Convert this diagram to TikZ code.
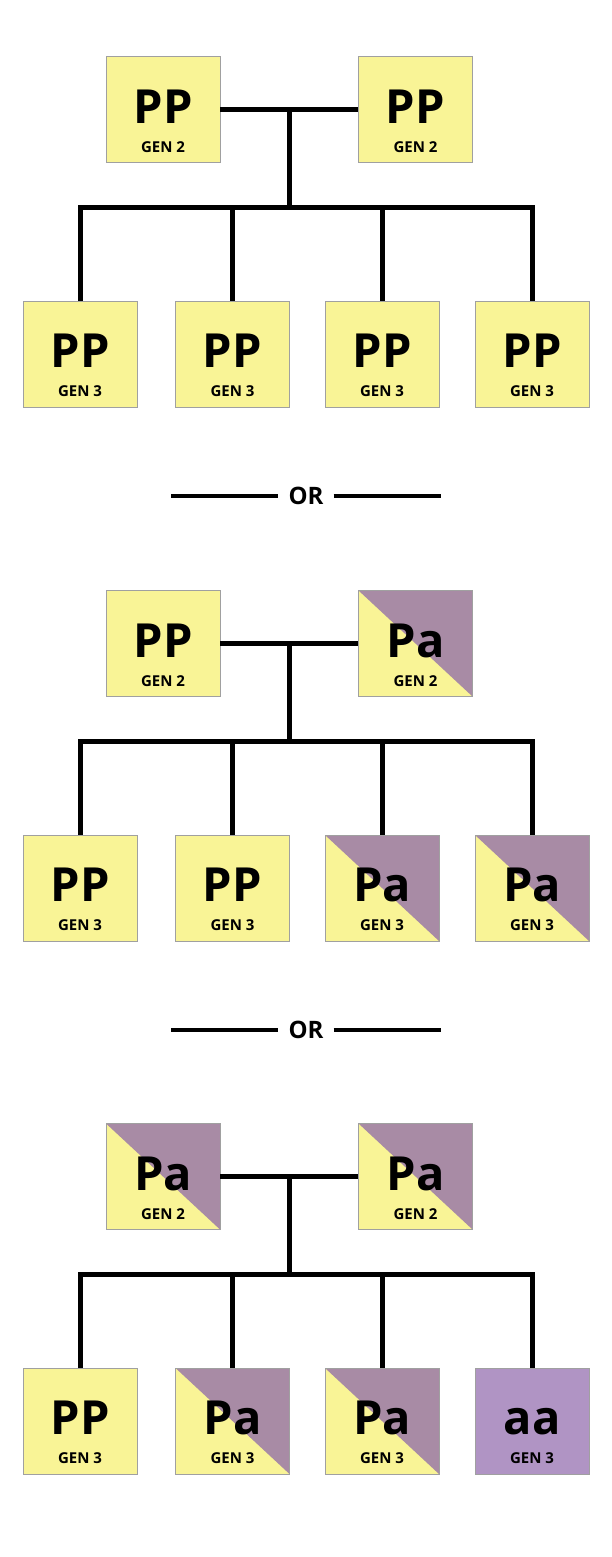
\documentclass[tikz,border=0pt]{standalone}
\usepackage{fontspec}
\setmainfont{Open Sans}
\usetikzlibrary{
    calc,
    positioning
}
\definecolor{pyellow}{HTML}{F9F496}
\definecolor{pmauve}{HTML}{A88BA5}
\definecolor{plilac}{HTML}{B094C4}
\definecolor{boxline}{HTML}{A0A0A0}
\tikzset {
    gen box/.style = {draw = boxline, line width = 0.8pt, fill = pyellow,
        minimum width = 114pt, minimum height = 106pt, inner sep = 0pt},
    half box/.style = {
        gen box,
        path picture = {
            \fill [pmauve] (path picture bounding box.north west)
                -- (path picture bounding box.north east)
                -- (path picture bounding box.south east) -- cycle;
        }
    },
    recessive box/.style = {gen box, fill = plilac},
    allele/.style = {anchor = base, inner sep = 0pt,
        font = \bfseries\fontsize{47}{47}\selectfont},
    gen label/.style = {anchor = base, inner sep = 0pt,
        font = \bfseries\fontsize{15}{15}\selectfont},
    bar/.style = {line width = 5pt},
    or line/.style = {line width = 4pt},
    or text/.style = {inner xsep = 10pt, inner ysep = 0pt,
        font = \bfseries\fontsize{24}{24}\selectfont}
}
% name, x, y, style, genotype, generation
\newcommand\pedbox[6]{
    \node [#4] (#1) at (#2, #3) {};
    \node [allele] at ([yshift = -67pt]#1.north) {#5};
    \node [gen label] at ([yshift = -96pt]#1.north) {GEN #6};
}
% parents a, b and children c1..c4 of one cross
\newcommand\pedlinks[1]{
    \draw [bar] (a#1.east) -- (b#1.west);
    \coordinate (m#1) at ($(a#1.east)!.5!(b#1.west)$);
    \coordinate (s#1) at ([yshift = -97.5pt]m#1);
    \draw [bar] (m#1) -- (s#1);
    \draw [bar] (c1#1.north) |- (s#1) -| (c4#1.north);
    \draw [bar] (c2#1.north) -- (c2#1.north |- s#1);
    \draw [bar] (c3#1.north) -- (c3#1.north |- s#1);
}

\begin{document}
\begin{tikzpicture}[x = 1pt, y = -1pt]
    \useasboundingbox (0, 0) rectangle (612, 1557);
    % first cross
    \pedbox{a1}{163}{109.5}{gen box}{PP}{2}
    \pedbox{b1}{415.5}{109.5}{gen box}{PP}{2}
    \pedbox{c11}{80}{354}{gen box}{PP}{3}
    \pedbox{c21}{232.5}{354}{gen box}{PP}{3}
    \pedbox{c31}{382}{354}{gen box}{PP}{3}
    \pedbox{c41}{532}{354}{gen box}{PP}{3}
    \pedlinks{1}
    % or
    \node [or text] (or1) at (306, 496) {OR};
    \coordinate (or1l) at (171, 496);
    \coordinate (or1r) at (441, 496);
    \draw [or line] (or1l) -- (or1.west);
    \draw [or line] (or1.east) -- (or1r);
    % second cross
    \pedbox{a2}{163}{643.5}{gen box}{PP}{2}
    \pedbox{b2}{415.5}{643.5}{half box}{Pa}{2}
    \pedbox{c12}{80}{888}{gen box}{PP}{3}
    \pedbox{c22}{232.5}{888}{gen box}{PP}{3}
    \pedbox{c32}{382}{888}{half box}{Pa}{3}
    \pedbox{c42}{532}{888}{half box}{Pa}{3}
    \pedlinks{2}
    % or
    \node [or text] (or2) at (306, 1029.5) {OR};
    \coordinate (or2l) at (171, 1029.5);
    \coordinate (or2r) at (441, 1029.5);
    \draw [or line] (or2l) -- (or2.west);
    \draw [or line] (or2.east) -- (or2r);
    % third cross
    \pedbox{a3}{163}{1176.5}{half box}{Pa}{2}
    \pedbox{b3}{415.5}{1176.5}{half box}{Pa}{2}
    \pedbox{c13}{80}{1421}{gen box}{PP}{3}
    \pedbox{c23}{232.5}{1421}{half box}{Pa}{3}
    \pedbox{c33}{382}{1421}{half box}{Pa}{3}
    \pedbox{c43}{532}{1421}{recessive box}{aa}{3}
    \pedlinks{3}
\end{tikzpicture}
\end{document}
